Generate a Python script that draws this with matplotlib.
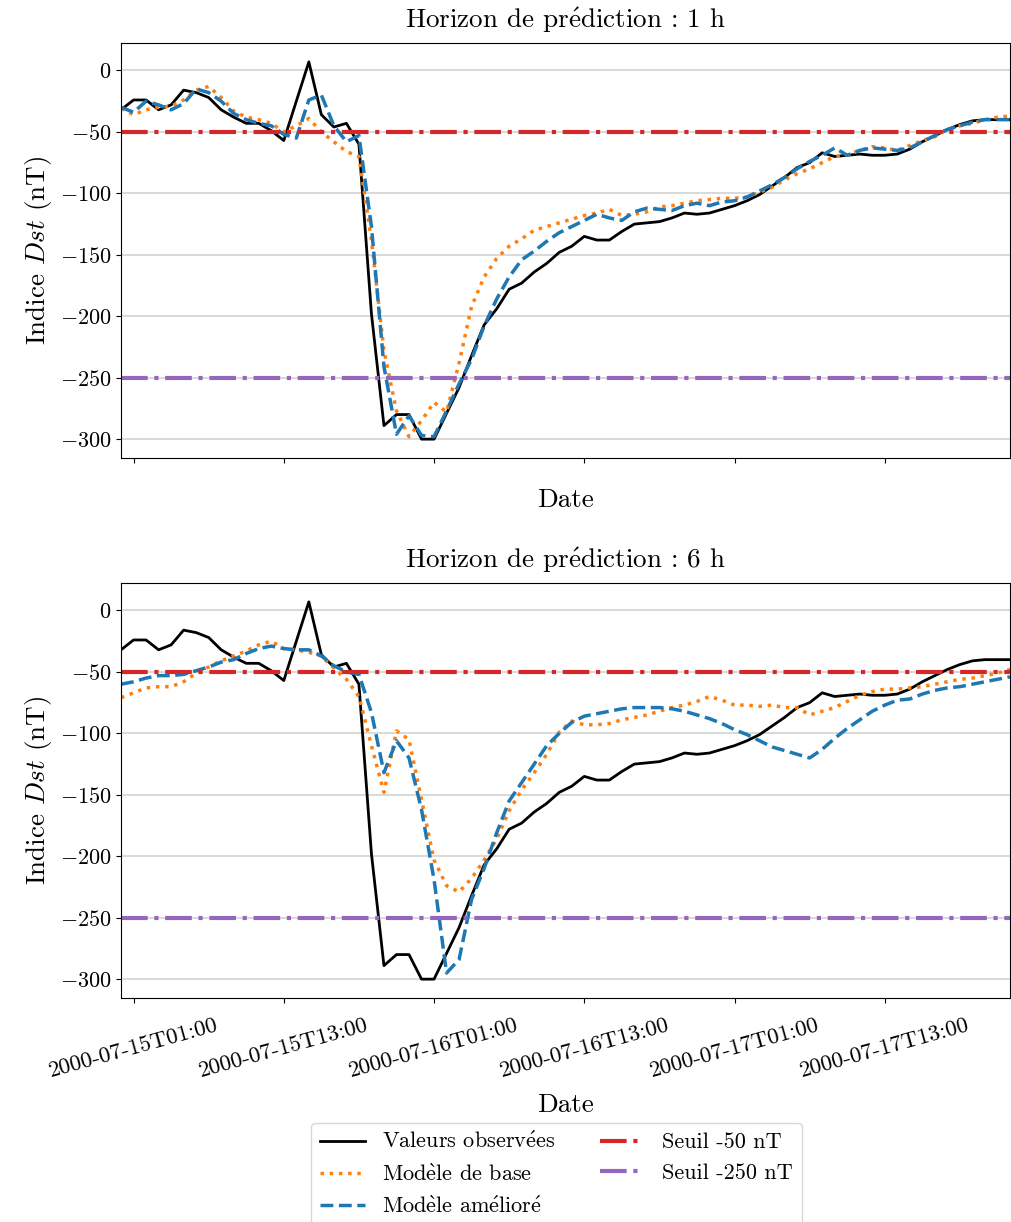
import matplotlib
matplotlib.use("Agg")
import matplotlib.pyplot as plt
import matplotlib.dates as mdates
import pandas as pd

plt.rcParams["font.family"] = ["cmr10", "DejaVu Serif"]
plt.rcParams["mathtext.fontset"] = "cm"
plt.rcParams["axes.formatter.use_mathtext"] = True
plt.rcParams["font.size"] = 16
plt.rcParams["axes.labelsize"] = 19.5
plt.rcParams["axes.titlesize"] = 19.5

# cmr10 has no precomposed accented letters, so they go through mathtext
E_ACUTE = r"$\acute{\mathrm{e}}$"
E_GRAVE = r"$\grave{\mathrm{e}}$"

times = pd.date_range("2000-07-15 00:00", periods=72, freq="h")

observed = [-32, -24, -24, -32, -28, -16, -18, -22, -32, -38, -43, -43, -49, -57, -25, 7, -36, -46, -43, -60,
            -198, -289, -280, -280, -300, -300, -279, -258, -232, -207, -194, -178, -173, -164, -157, -148, -143, -135, -138, -138,
            -131, -125, -124, -123, -120, -116, -117, -116, -113, -110, -106, -101, -94, -87, -79, -75, -67, -70, -69, -68,
            -69, -69, -68, -64, -58, -53, -48, -44, -41, -40, -40, -40]

base_1h = [-31, -36, -32, -30, -29, -24, -16, -13, -22, -33, -38, -40, -43, -50, -45, -39, -50, -58, -66, -70,
           -138, -228, -277, -298, -285, -270, -278, -238, -192, -168, -153, -143, -137, -130, -127, -124, -121, -118, -116, -113,
           -118, -117, -115, -111, -110, -108, -106, -105, -104, -104, -103, -99, -95, -89, -84, -80, -75, -70, -69, -65,
           -62, -63, -65, -61, -57, -54, -48, -45, -43, -40, -38, -37]

improved_1h = [-30, -34, -25, -28, -32, -27, -15, -18, -25, -35, -40, -43, -45, -52, -55, -24, -20, -45, -58, -53,
               -127, -241, -296, -281, -297, -298, -277, -255, -235, -208, -186, -168, -154, -147, -139, -132, -127, -122, -117, -120,
               -122, -115, -112, -113, -114, -110, -108, -110, -107, -106, -103, -98, -93, -87, -80, -74, -69, -63, -69, -65,
               -63, -64, -65, -63, -58, -53, -48, -45, -42, -40, -40, -40]

base_6h = [-71, -67, -63, -62, -62, -58, -51, -46, -41, -37, -33, -28, -25, -31, -32, -34, -37, -47, -56, -70,
           -110, -148, -98, -105, -154, -203, -224, -229, -218, -203, -186, -163, -146, -132, -117, -99, -90, -93, -93, -92,
           -89, -87, -85, -82, -79, -77, -74, -70, -73, -77, -77, -78, -77, -79, -79, -85, -82, -79, -74, -69,
           -66, -64, -64, -63, -62, -60, -58, -56, -55, -53, -51, -48]

improved_6h = [-60, -58, -55, -53, -53, -52, -49, -46, -42, -40, -35, -31, -29, -31, -32, -32, -37, -45, -50, -52,
               -83, -132, -106, -120, -162, -219, -295, -284, -235, -210, -181, -155, -140, -125, -110, -100, -91, -86, -84, -82,
               -80, -79, -79, -79, -80, -82, -85, -88, -92, -97, -101, -106, -111, -114, -117, -120, -113, -104, -96, -89,
               -82, -77, -73, -72, -68, -65, -63, -62, -60, -58, -56, -54]

horizons = ["1 h", "6 h"]
preds = [(base_1h, improved_1h), (base_6h, improved_6h)]
thresholds = [-50, -250]

fig = plt.figure(figsize=(10.12, 12.22), dpi=100)
ax1 = fig.add_axes([0.1196, 0.6252, 0.8784, 0.3396])
ax2 = fig.add_axes([0.1196, 0.1833, 0.8784, 0.3396], sharex=ax1)

for ax, horizon, (base, improved) in zip([ax1, ax2], horizons, preds):
    ax.plot(times, observed, color="black", lw=2, label="Valeurs observ" + E_ACUTE + "es")
    ax.plot(times, base, color="tab:orange", ls=":", lw=2.5, label="Mod" + E_GRAVE + "le de base")
    ax.plot(times, improved, color="tab:blue", ls="--", lw=2.5,
            label="Mod" + E_GRAVE + "le am" + E_ACUTE + "lior" + E_ACUTE)
    ax.axhline(thresholds[0], color="tab:red", ls="-.", lw=3, label="Seuil -50 nT")
    ax.axhline(thresholds[1], color="tab:purple", ls="-.", lw=3, label="Seuil -250 nT")
    ax.grid(axis="y", color="lightgray", lw=1.2)
    ax.set_axisbelow(True)
    ax.set_title("Horizon de pr" + E_ACUTE + "diction : " + horizon, pad=11)
    ax.set_ylabel("Indice $Dst$ (nT)")
    ax.set_xlim(times[0], times[-1])
    ax.xaxis.set_major_locator(mdates.HourLocator(byhour=[1, 13]))
    ax.xaxis.set_major_formatter(mdates.DateFormatter("%Y-%m-%dT%H:%M"))

ax1.tick_params(axis="x", labelbottom=False)
ax1.set_xlabel("Date", labelpad=18)
ax2.tick_params(axis="x", pad=9)
ax2.set_xlabel("Date", labelpad=9)
for lbl in ax2.get_xticklabels():
    lbl.set_rotation(15.5)
    lbl.set_ha("center")
    lbl.set_fontsize(16.5)

handles, labels = ax2.get_legend_handles_labels()
fig.legend(handles, labels, loc="upper center", bbox_to_anchor=(0.55, 0.0905), ncol=2, fontsize=16)

fig.savefig("out.png", dpi=100)
